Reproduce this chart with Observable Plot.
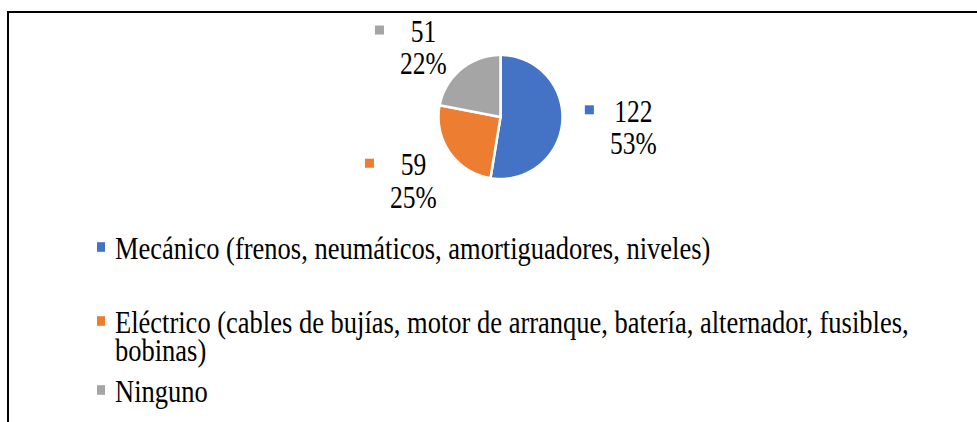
<!DOCTYPE html>
<html>
<head>
<meta charset="utf-8">
<script src="https://cdn.jsdelivr.net/npm/d3@7"></script>
<script src="https://cdn.jsdelivr.net/npm/@observablehq/plot@0.6"></script>
<style>
  html, body { margin: 0; padding: 0; background: #fff; }
  body { width: 977px; height: 422px; overflow: hidden; position: relative; }
  #frame { position: absolute; left: 7px; top: 11px; width: 1000px; height: 500px;
           border-top: 2px solid #000; border-left: 2px solid #000; }
  #chart { position: absolute; left: 0; top: 0; }
  .item { position: absolute; left: 97px; transform: scaleY(1.2); transform-origin: 0 0;
          font-family: "Liberation Serif", "Times New Roman", serif; font-size: 26.5px;
          line-height: 22.5px; color: #000; }
  .sw { position: absolute; left: 0; top: 5.8px; width: 8px; height: 8px; }
  .tx { position: absolute; left: 18px; top: 0; width: 850px; }
</style>
</head>
<body>
<div id="frame"></div>
<div id="chart"></div>
<div id="legend"></div>
<script>
// ---- data ----
const categories = [
  "Mecánico (frenos, neumáticos, amortiguadores, niveles)",
  "Eléctrico (cables de bujías, motor de arranque, batería, alternador, fusibles, bobinas)",
  "Ninguno"
];
const values = [122, 59, 51];

// ---- styles / layout ----
const colors = ["#4472C4", "#ED7D31", "#A5A5A5"];
const labelRadius = [2.15, 1.745, 1.668];   // label distance from centre, in pie radii
const labelAngleShift = [0, -1.5, -8.6];     // degrees
const legendTops = [235, 309, 378];

const W = 977, H = 422, R = 62, CX = 500, CY = 116.5;

const total = d3.sum(values);
const arcs = d3.pie().sort(null).value(d => d)(values);

const slicePts = [];
arcs.forEach((a, i) => {
  const n = Math.ceil((a.endAngle - a.startAngle) / (Math.PI / 180));
  slicePts.push({x: 0, y: 0, c: categories[i]});
  for (let k = 0; k <= n; k++) {
    const t = a.startAngle + (a.endAngle - a.startAngle) * k / n;
    slicePts.push({x: Math.sin(t), y: Math.cos(t), c: categories[i]});
  }
});

const labels = arcs.map((a, i) => {
  const mid = (a.startAngle + a.endAngle) / 2 + labelAngleShift[i] * Math.PI / 180;
  const r = labelRadius[i];
  return {
    x: r * Math.sin(mid), y: r * Math.cos(mid), c: categories[i],
    text: `${values[i]}\n${Math.round(values[i] / total * 100)}%`
  };
});

const plot = Plot.plot({
  width: W, height: H,
  marginTop: 0, marginRight: 0, marginBottom: 0, marginLeft: 0,
  x: {domain: [-CX / R, (W - CX) / R], range: [0, W], axis: null},
  y: {domain: [-(H - CY) / R, CY / R], range: [H, 0], axis: null},
  color: {domain: categories, range: colors},
  style: {background: "transparent", overflow: "visible"},
  marks: [
    Plot.line(slicePts, {x: "x", y: "y", z: "c", fill: "c", stroke: "white",
      strokeWidth: 2.5, curve: "linear-closed"}),
    Plot.dot(labels, {x: "x", y: "y", fill: "c", symbol: "square", r: 5.1, dx: -44, dy: -18}),
    Plot.text(labels, {x: "x", y: "y", text: "text", fontSize: 25.5,
      fontFamily: "Liberation Serif", lineHeight: 1.05, textAnchor: "middle", fill: "#000"})
  ]
});
document.getElementById("chart").appendChild(plot);

// stretch label glyphs vertically (as in the reference)
plot.querySelectorAll('g[aria-label="text"] text').forEach(t => {
  const tr = t.getAttribute("transform");
  if (tr) t.setAttribute("transform", tr + " scale(1,1.2)");
  else {
    const x = +t.getAttribute("x") || 0, y = +t.getAttribute("y") || 0;
    t.setAttribute("transform", `translate(${x},${y}) scale(1,1.2) translate(${-x},${-y})`);
  }
});

// legend
const legend = document.getElementById("legend");
categories.forEach((c, i) => {
  const item = document.createElement("div");
  item.className = "item";
  item.style.top = legendTops[i] + "px";
  const sw = document.createElement("span");
  sw.className = "sw";
  sw.style.background = colors[i];
  const tx = document.createElement("span");
  tx.className = "tx";
  tx.textContent = c;
  item.appendChild(sw);
  item.appendChild(tx);
  legend.appendChild(item);
});
</script>
</body>
</html>
